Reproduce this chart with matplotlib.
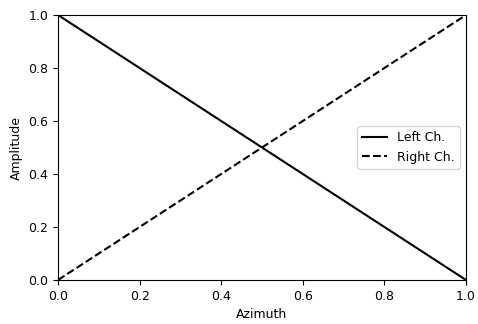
import matplotlib
matplotlib.use('Agg')
import matplotlib.pyplot as plt

# Panning law data
azimuth = [0.0, 1.0]
left_ch = [1.0, 0.0]
right_ch = [0.0, 1.0]

fig = plt.figure(figsize=(4.78, 3.24), dpi=100)
ax = fig.add_axes([58 / 478, 1 - 280 / 324, (466 - 58) / 478, (280 - 15) / 324])

ax.plot(azimuth, left_ch, color='black', linestyle='-', label='Left Ch.')
ax.plot(azimuth, right_ch, color='black', linestyle='--', label='Right Ch.')

ax.set_xlim(0, 1)
ax.set_ylim(0, 1)
ax.set_xlabel('Azimuth', fontsize=9)
ax.set_ylabel('Amplitude', fontsize=9)
ax.tick_params(labelsize=9)
ax.legend(loc='center right', fontsize=9)

fig.savefig('out.png', dpi=100)
